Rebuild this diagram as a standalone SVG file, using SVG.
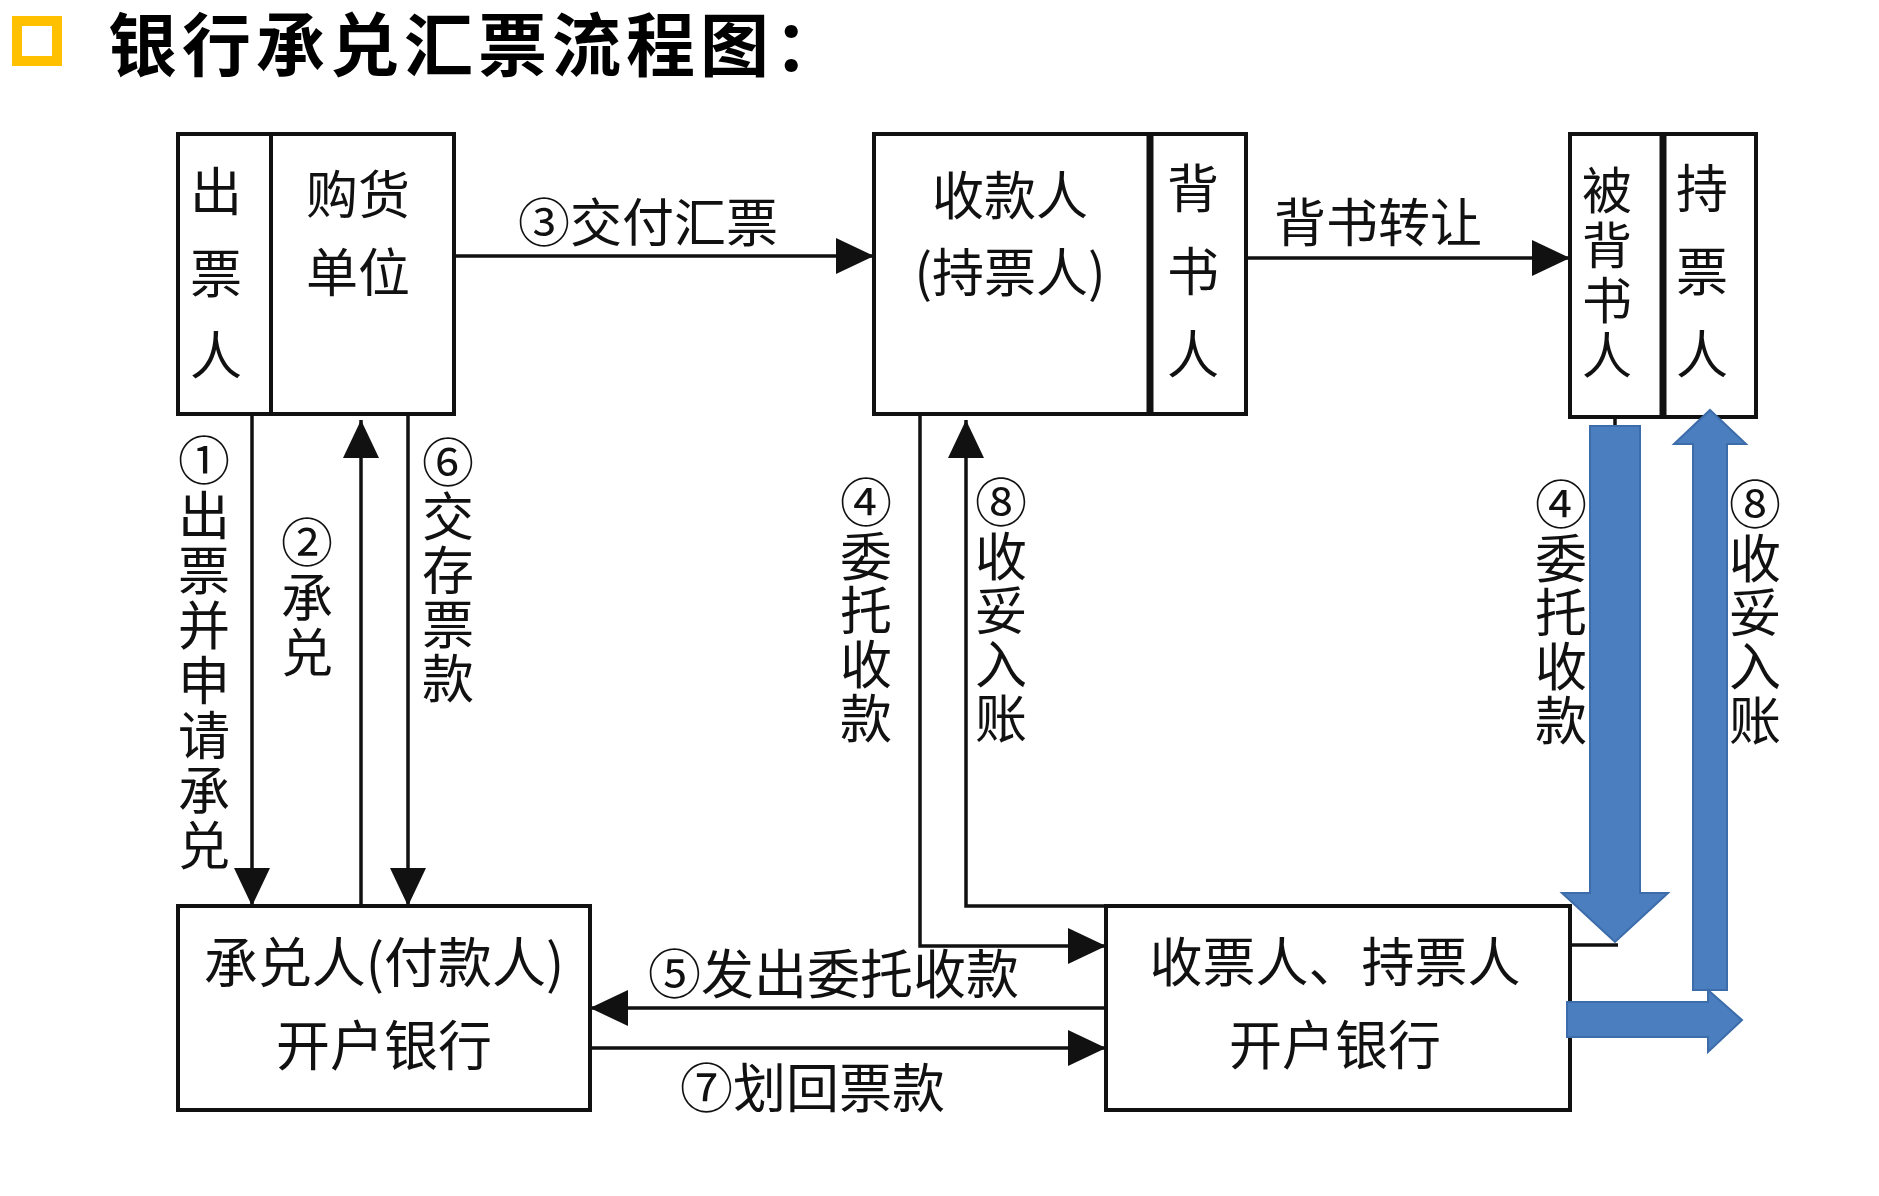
<svg xmlns="http://www.w3.org/2000/svg" width="1879" height="1196" viewBox="0 0 1879 1196">
<style>
  .box{fill:#fff;stroke:#111;stroke-width:4}
  .div{stroke:#111;stroke-width:4}
  .divt{stroke:#111;stroke-width:7}
  .t{font-family:"Noto Sans CJK SC","Liberation Sans",sans-serif;font-size:52px;fill:#111}
  .tc{text-anchor:middle}
  .v{writing-mode:vertical-rl;text-orientation:upright}
  .ln{fill:none;stroke:#111;stroke-width:3.5}
  .blue{fill:#4A7EBF;stroke:#3C6CA9;stroke-width:2}
  .title{font-family:"Noto Sans CJK SC","Liberation Sans",sans-serif;font-size:69px;font-weight:700;fill:#000;letter-spacing:5px}
</style>
<defs>
  <marker id="ah" markerUnits="userSpaceOnUse" markerWidth="40" markerHeight="36" refX="38" refY="18" orient="auto">
    <path d="M0,0 L38,18 L0,36 Z" fill="#111"/>
  </marker>
</defs>
<rect width="1879" height="1196" fill="#fff"/>

<g id="title">
  <rect x="17" y="21" width="40" height="40" fill="none" stroke="#FFC000" stroke-width="10"/>
  <text class="title" x="108" y="71">银行承兑汇票流程图：</text>
</g>

<g id="node-drawer">
  <rect class="box" x="178" y="134" width="276" height="280"/>
  <line class="div" x1="271" y1="134" x2="271" y2="414"/>
  <text class="t v" x="216" y="165" style="letter-spacing:30px">出票人</text>
  <text class="t tc"><tspan x="358" y="214">购货</tspan><tspan x="358" y="292">单位</tspan></text>
</g>

<g id="node-payee">
  <rect class="box" x="874" y="134" width="372" height="280"/>
  <line class="divt" x1="1150" y1="134" x2="1150" y2="414"/>
  <text class="t tc"><tspan x="1010" y="215">收款人</tspan><tspan x="1010" y="292">(持票人)</tspan></text>
  <text class="t v" x="1193" y="162" style="letter-spacing:31px">背书人</text>
</g>

<g id="node-endorsee">
  <rect class="box" x="1570" y="134" width="186" height="283"/>
  <line class="divt" x1="1663" y1="134" x2="1663" y2="417"/>
  <text class="t v" x="1607" y="165" style="font-size:50px;letter-spacing:5px">被背书人</text>
  <text class="t v" x="1702" y="162" style="letter-spacing:31px">持票人</text>
</g>

<g id="node-acceptor-bank">
  <rect class="box" x="178" y="906" width="412" height="204"/>
  <text class="t tc" style="font-size:54px"><tspan x="384" y="983">承兑人(付款人)</tspan><tspan x="384" y="1066">开户银行</tspan></text>
</g>

<g id="node-payee-bank">
  <rect class="box" x="1106" y="906" width="464" height="204"/>
  <text class="t tc" style="font-size:53px"><tspan x="1335" y="982">收票人、持票人</tspan><tspan x="1335" y="1065">开户银行</tspan></text>
</g>

<g id="connectors">
  <line class="ln" x1="454" y1="256" x2="874" y2="256" marker-end="url(#ah)"/>
  <line class="ln" x1="1246" y1="258" x2="1570" y2="258" marker-end="url(#ah)"/>
  <line class="ln" x1="252" y1="414" x2="252" y2="906" marker-end="url(#ah)"/>
  <line class="ln" x1="361" y1="906" x2="361" y2="420" marker-end="url(#ah)"/>
  <line class="ln" x1="408" y1="414" x2="408" y2="906" marker-end="url(#ah)"/>
  <path class="ln" d="M920,414 V946 H1106" marker-end="url(#ah)"/>
  <path class="ln" d="M1106,906 H966 V420" marker-end="url(#ah)"/>
  <line class="ln" x1="1106" y1="1008" x2="590" y2="1008" marker-end="url(#ah)"/>
  <line class="ln" x1="590" y1="1048" x2="1106" y2="1048" marker-end="url(#ah)"/>
  <line class="ln" x1="1570" y1="945" x2="1618" y2="945"/>
  <line class="ln" x1="1615" y1="417" x2="1615" y2="428"/>

  <text class="t" x="518" y="242">③交付汇票</text>
  <text class="t" x="1274" y="242">背书转让</text>
  <text class="t" x="648" y="994" style="font-size:53px">⑤发出委托收款</text>
  <text class="t" x="680" y="1108" style="font-size:53px">⑦划回票款</text>

  <text class="t v" x="204" y="434" style="letter-spacing:3px">①出票并申请承兑</text>
  <text class="t v" x="307" y="516" style="letter-spacing:3px">②承兑</text>
  <text class="t v" x="448" y="436" style="letter-spacing:2px">⑥交存票款</text>
  <text class="t v" x="866" y="476" style="letter-spacing:2px">④委托收款</text>
  <text class="t v" x="1001" y="476" style="letter-spacing:2px">⑧收妥入账</text>
  <text class="t v" x="1561" y="478" style="letter-spacing:2px">④委托收款</text>
  <text class="t v" x="1755" y="478" style="letter-spacing:2px">⑧收妥入账</text>

  <polygon class="blue" points="1590,426 1640,426 1640,893 1668,893 1615,942 1562,893 1590,893"/>
  <polygon class="blue" points="1710,410 1746,444 1727,444 1727,990 1693,990 1693,444 1674,444"/>
  <polygon class="blue" points="1567,1002 1708,1002 1708,990 1742,1020 1708,1052 1708,1037 1567,1037"/>
</g>
</svg>
